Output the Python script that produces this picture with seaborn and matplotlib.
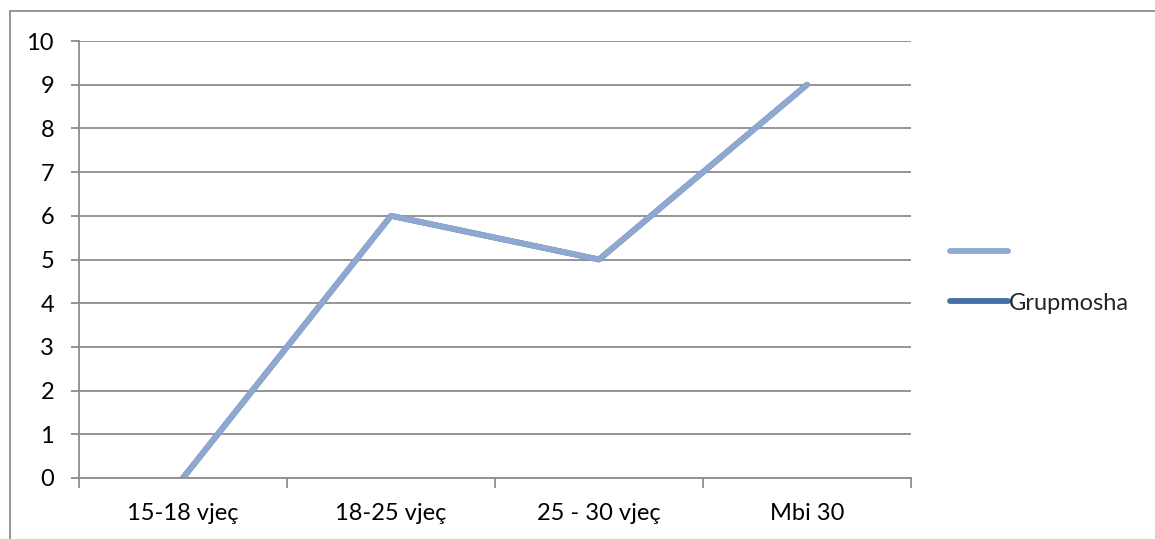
import matplotlib
matplotlib.use("Agg")
import matplotlib.pyplot as plt
import seaborn as sns
import pandas as pd
from matplotlib.lines import Line2D
from matplotlib.ticker import FixedLocator

categories = ["15-18 vjeç", "18-25 vjeç", "25 - 30 vjeç", "Mbi 30"]
series_light = [0, 6, 5, 9]
series_dark = [0, 6, 5, 9]
series_dark_name = "Grupmosha"
y_ticks = list(range(0, 11))

sns.set_theme(style="white")
plt.rcParams["font.family"] = ["Lato", "DejaVu Sans"]

light_color = "#8EA8CF"
dark_color = "#446FA7"
grid_color = "#8C8C8C"
fs = 17
lw = 4.2

fig = plt.figure(figsize=(11.55, 5.39), dpi=100)
ax = fig.add_axes([79/1155, 61/539, 832/1155, 437/539])

df = pd.DataFrame({"cat": categories, "light": series_light, "dark": series_dark})
sns.lineplot(data=df, x="cat", y="dark", ax=ax, color=dark_color, linewidth=lw,
             solid_capstyle="round", sort=False)
sns.lineplot(data=df, x="cat", y="light", ax=ax, color=light_color, linewidth=lw,
             solid_capstyle="round", sort=False)

ax.set_xlim(-0.5, len(categories) - 0.5)
ax.set_ylim(0, 10)
ax.set_xlabel("")
ax.set_ylabel("")
ax.set_yticks(y_ticks)
ax.set_xticks(range(len(categories)))
ax.set_xticklabels(categories)
ax.xaxis.set_minor_locator(FixedLocator([i - 0.5 for i in range(len(categories) + 1)]))

ax.grid(axis="y", color=grid_color, linewidth=1.3)
ax.set_axisbelow(True)
for s in ["top", "right"]:
    ax.spines[s].set_visible(False)
for s in ["left", "bottom"]:
    ax.spines[s].set_color(grid_color)
    ax.spines[s].set_linewidth(1.3)

ax.tick_params(axis="y", which="major", length=6, width=1.3, color=grid_color,
               direction="out", left=True, labelsize=fs, labelcolor="black", pad=12)
ax.tick_params(axis="x", which="major", length=0, labelsize=fs, labelcolor="black", pad=18)
ax.tick_params(axis="x", which="minor", length=7, width=1.3, color=grid_color,
               direction="out", bottom=True)

handles = [Line2D([0], [0], color=light_color, linewidth=lw, solid_capstyle="round"),
           Line2D([0], [0], color=dark_color, linewidth=lw, solid_capstyle="round")]
fig.legend(handles, ["", series_dark_name], loc="center left",
           bbox_to_anchor=(950/1155, 1 - 278/539), frameon=False, fontsize=fs,
           handlelength=2.45, handletextpad=0.05, labelspacing=1.25, borderaxespad=0,
           borderpad=0)

# outer chart frame
fig.add_artist(Line2D([10/1155, 10/1155], [0, 1 - 11/539], transform=fig.transFigure,
                      color=grid_color, linewidth=1.3))
fig.add_artist(Line2D([10/1155, 1], [1 - 11/539, 1 - 11/539], transform=fig.transFigure,
                      color=grid_color, linewidth=1.3))

fig.savefig("out.png", dpi=100)
